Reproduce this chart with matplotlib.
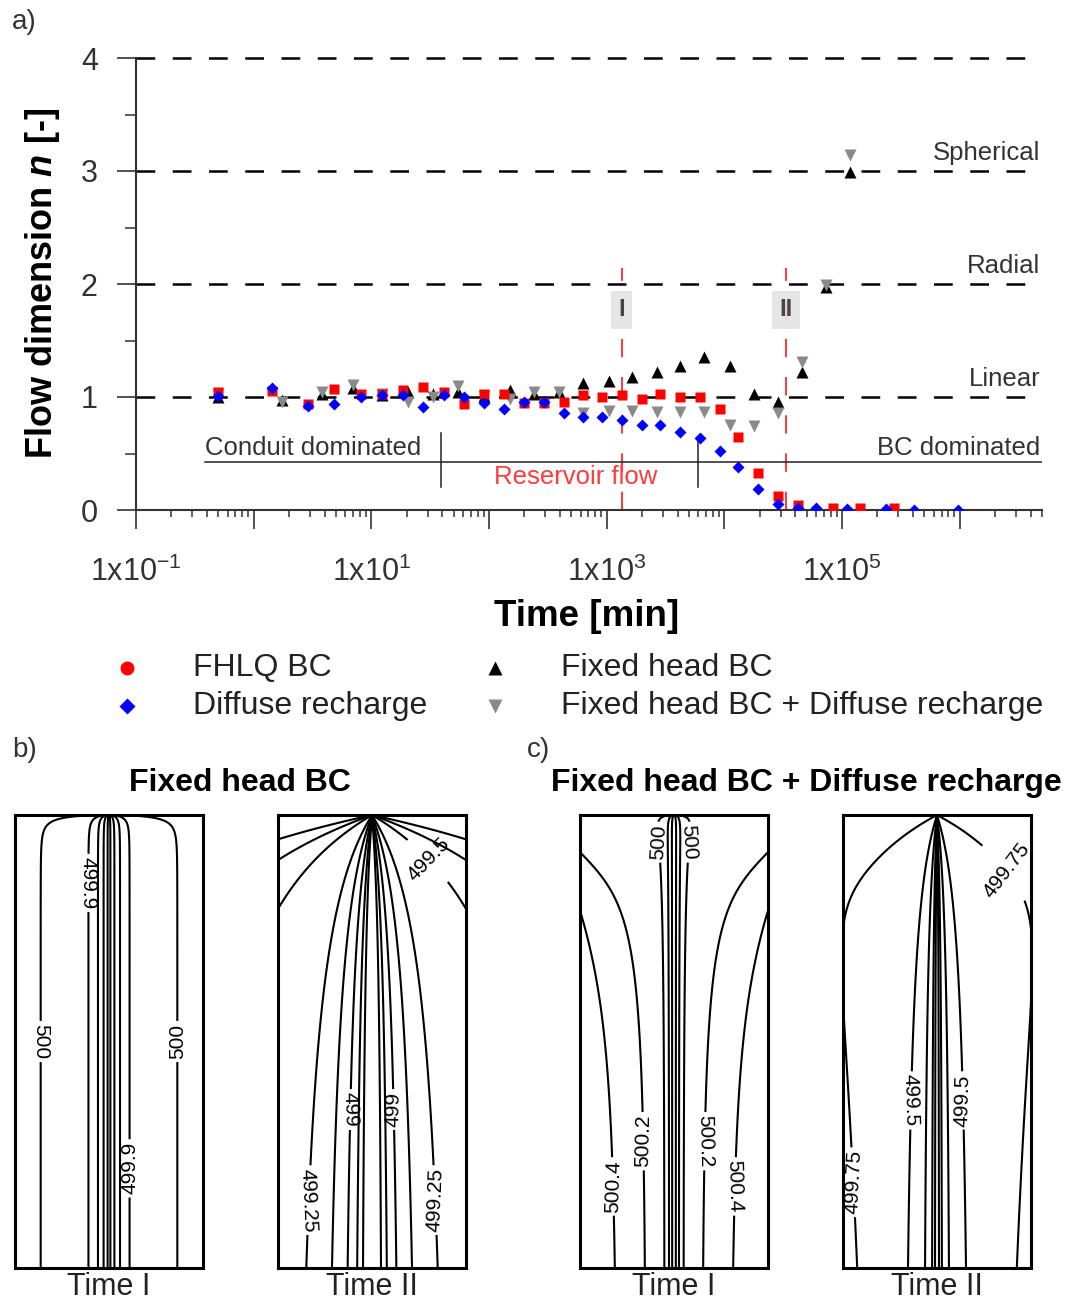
import numpy as np
import matplotlib
matplotlib.use("Agg")
import matplotlib.pyplot as plt
import matplotlib.ticker as mticker
from matplotlib.lines import Line2D

plt.rcParams["font.family"] = ["Liberation Sans", "DejaVu Sans"]
plt.rcParams["mathtext.fontset"] = "custom"
plt.rcParams["mathtext.rm"] = "Liberation Sans"
plt.rcParams["mathtext.it"] = "Liberation Sans:italic:bold"
plt.rcParams["mathtext.bf"] = "Liberation Sans:bold"
plt.rcParams["axes.unicode_minus"] = False

# ---- panel a data (time in min, flow dimension n) ----
t_fhlq = [0.5, 1.44, 2.9, 4.8, 8.1, 12.4, 18.7, 27.7, 41.8, 61.8, 89.8, 133, 197, 291, 430,
          625, 906, 1342, 1986, 2826, 4180, 6180, 9160, 13030, 19280, 28510, 42260,
          83800, 142300, 277200]
n_fhlq = [1.04, 1.05, 0.94, 1.07, 1.03, 1.03, 1.06, 1.09, 1.04, 0.94, 1.03, 1.03, 0.95, 0.95, 0.96,
          1.02, 1.00, 1.02, 0.98, 1.03, 1.00, 1.00, 0.89, 0.65, 0.33, 0.12, 0.04,
          0.02, 0.02, 0.02]

t_diff = [0.5, 1.44, 2.9, 4.8, 8.1, 12.4, 18.7, 27.7, 41.8, 61.8, 89.8, 133, 197, 291, 430,
          625, 906, 1342, 1986, 2826, 4180, 6180, 9160, 13030, 19280, 28510, 42260,
          60100, 110400, 236700, 410000, 971000]
n_diff = [1.01, 1.08, 0.92, 0.94, 1.00, 1.02, 1.02, 0.91, 1.02, 1.00, 0.95, 0.89, 0.96, 0.96, 0.86,
          0.82, 0.82, 0.80, 0.75, 0.75, 0.69, 0.64, 0.52, 0.38, 0.19, 0.05, 0.02,
          0.02, 0.01, 0.01, 0.00, 0.00]

t_fix = [0.5, 1.75, 3.8, 7.0, 12.4, 20.6, 33.7, 55, 89.8, 152, 239, 390, 625, 1040, 1633,
         2666, 4180, 6700, 11140, 17820, 28510, 45700, 73100, 117000]
n_fix = [1.00, 0.97, 1.03, 1.08, 1.02, 1.04, 1.03, 1.04, 1.01, 1.06, 1.03, 1.04, 1.12, 1.14, 1.18,
         1.22, 1.27, 1.35, 1.27, 1.03, 0.96, 1.22, 1.97, 2.99]
n_fix_rch = [1.03, 0.96, 1.04, 1.11, 1.03, 0.96, 1.00, 1.10, 1.01, 0.98, 1.04, 1.04, 0.86, 0.88, 0.88,
             0.87, 0.87, 0.87, 0.75, 0.74, 0.86, 1.31, 1.99, 3.14]

ref_levels = [1, 2, 3, 4]
ref_names = ["Linear", "Radial", "Spherical"]
t_marks = [1342, 33300]
mark_names = ["I", "II"]
t_split = [39.4, 5950]

fig = plt.figure(figsize=(10.68, 13.02), dpi=100)
ax = fig.add_axes([136/1068, 1-510/1302, 906/1068, 452/1302])
ax.set_xscale("log")
ax.set_xlim(0.1, 5e6)
ax.set_ylim(0, 4)

for yv in ref_levels:
    ax.axhline(yv, color="black", lw=1.8, ls=(0, (7.5, 7.0)), zorder=1, clip_on=False)
for name, yv in zip(ref_names, ref_levels[:3]):
    ax.text(0.998, yv + 0.16, name, transform=ax.get_yaxis_transform(), ha="right", va="center",
            fontsize=18.5, color="#333333")

for tm, nm in zip(t_marks, mark_names):
    ax.plot([tm, tm], [0, 2.14], color="red", lw=1.1, ls=(0, (12, 13)), zorder=2)
    ax.text(tm, 1.77, nm, ha="center", va="center", fontsize=17, fontweight="bold", color="#444444",
            bbox=dict(boxstyle="square,pad=0.3", fc="#e4e4e4", ec="none", alpha=0.9), zorder=3)

ax.plot([0.386, 5e6], [0.425, 0.425], color="#222222", lw=1.1, zorder=2)
ax.plot([t_split[0]] * 2, [0.2, 0.68], color="#222222", lw=1.1, zorder=2)
ax.plot([t_split[1]] * 2, [0.2, 0.65], color="#222222", lw=1.1, zorder=2)
ax.text(0.386, 0.55, "Conduit dominated", ha="left", va="center", fontsize=18.5, color="#333333")
ax.text(4.8e6, 0.55, "BC dominated", ha="right", va="center", fontsize=18.5, color="#333333")
ax.text(545, 0.29, "Reservoir flow", ha="center", va="center", fontsize=18.5, color="#ff3b3b")

ax.plot(t_fix, n_fix, ls="none", marker="^", ms=8.5, color="black", mec="none", zorder=4)
ax.plot(t_fix, n_fix_rch, ls="none", marker="v", ms=8.5, color="#8a8a8a", mec="none", zorder=4)
ax.plot(t_fhlq, n_fhlq, ls="none", marker="s", ms=7.8, color="red", mec="none", zorder=5)
ax.plot(t_diff, n_diff, ls="none", marker="D", ms=6.3, color="blue", mec="none", zorder=6)

ax.yaxis.set_major_locator(mticker.MultipleLocator(1))
ax.yaxis.set_minor_locator(mticker.MultipleLocator(0.5))
ax.xaxis.set_major_locator(mticker.LogLocator(base=10, numticks=20))
ax.xaxis.set_minor_locator(mticker.LogLocator(base=10, subs=np.arange(2, 10), numticks=20))


def xfmt(v, pos):
    e = int(round(np.log10(v)))
    if e % 2 == 0:
        return ""
    return r"1x10$^{\mathregular{%d}}$" % e


ax.xaxis.set_major_formatter(mticker.FuncFormatter(xfmt))
ax.xaxis.set_minor_formatter(mticker.NullFormatter())
ax.tick_params(axis="both", which="major", direction="out", length=13.5, width=1.2,
               color="#333333", labelsize=22, labelcolor="#333333")
ax.tick_params(axis="x", which="major", pad=20)
ax.tick_params(axis="y", which="major", pad=14)
ax.tick_params(axis="x", which="minor", direction="out", length=5, width=1.1, color="#333333")
ax.tick_params(axis="y", which="minor", direction="out", length=8, width=1.1, color="#333333")
for s in ["top", "right"]:
    ax.spines[s].set_visible(False)
for s in ["left", "bottom"]:
    ax.spines[s].set_linewidth(1.5)
    ax.spines[s].set_color("#333333")

fig.text(0.040, 1-283/1302, "Flow dimension $n$ [-]", rotation=90, ha="center", va="center",
         fontsize=26, fontweight="bold")
fig.text(587/1068, 1-617/1302, "Time [min]", ha="center", va="center", fontsize=26.5, fontweight="bold")
fig.text(12/1068, 1-22/1302, "a)", ha="left", va="center", fontsize=20, color="#333333")

# legend
leg_items = [("FHLQ BC", "o", "red", 127, 668, 10),
             ("Diffuse recharge", "D", "blue", 127, 706, 8),
             ("Fixed head BC", "^", "black", 495, 668, 9.5),
             ("Fixed head BC + Diffuse recharge", "v", "#8a8a8a", 495, 706, 9.5)]
for lab, mk, col, px, py, ms in leg_items:
    fig.add_artist(Line2D([px/1068], [1-py/1302], marker=mk, color=col, ms=ms, mec="none",
                          ls="none", transform=fig.transFigure))
    fig.text((px + 66)/1068, 1-py/1302, lab, ha="left", va="center", fontsize=23, color="#222222")

# ---- panels b, c: simulated head contours (x across, d = depth below outlet) ----
xg = np.linspace(-1, 1, 801)
dg = np.linspace(1e-4, 1, 1601)
X, D = np.meshgrid(xg, dg)
AX = np.abs(X) + 1e-3

# time I: conduit along the centre line, draining to the outlet at the top
g_top = np.tanh(np.sqrt(D/0.01))
h_b1 = 500.0035 - 0.448*np.exp(-(AX/g_top)/0.15)
# time II: drawdown spreading out from the outlet
w_b2 = 1.3*D/(D + 0.3)
h_b2 = np.minimum(500, 499.34 + 0.2525*np.log(AX/w_b2))
# with diffuse recharge
h_c1 = (500.02 - 0.3*np.exp(-(AX/g_top)/0.08)
        + (0.62*AX + 0.13*AX**8)*(1 - np.exp(-D/0.3)))
w_c2 = 1.25*D/(D + 0.25)
h_c2 = np.minimum(500, 499.6657 + 0.1415*np.log(AX/w_c2)) + 0.2846*AX**6*D**2

lev_b1 = [499.6, 499.7, 499.8, 499.9, 500]
lev_b2 = [498.75, 498.875, 499, 499.125, 499.25, 499.5, 499.625, 499.75]
lev_c1 = [499.8, 499.9, 500, 500.2, 500.4]
lev_c2 = [499.125, 499.25, 499.375, 499.5, 499.75]

panels = [
    (15, h_b1, lev_b1, [(-0.73, 0.5), (0.73, 0.5), (-0.22, 0.15), (0.22, 0.78)], "Time I"),
    (278, h_b2, lev_b2, [(0.6, 0.1), (-0.27, 0.65), (0.26, 0.65), (-0.69, 0.85), (0.68, 0.85)], "Time II"),
    (580, h_c1, lev_c1, [(-0.17, 0.06), (0.17, 0.06), (-0.31, 0.72), (0.31, 0.72),
                         (-0.66, 0.82), (0.67, 0.82)], "Time I"),
    (843, h_c2, lev_c2, [(0.7, 0.13), (-0.3, 0.63), (0.3, 0.63), (-0.82, 0.81)], "Time II"),
]
for px, hh, lev, lpos, lab in panels:
    axp = fig.add_axes([px/1068, 1-1268/1302, 188/1068, 453/1302])
    cs = axp.contour(X, D, hh, levels=lev, colors="black", linewidths=1.5)
    axp.clabel(cs, fmt="%g", manual=lpos, fontsize=15, inline=True, inline_spacing=3)
    axp.set_xlim(-1, 1)
    axp.set_ylim(1, 0)
    axp.set_xticks([])
    axp.set_yticks([])
    for s in axp.spines.values():
        s.set_linewidth(2.2)
    axp.set_xlabel(lab, fontsize=22, labelpad=3, color="#222222")

fig.text(240/1068, 1-783/1302, "Fixed head BC", ha="center", va="center", fontsize=23, fontweight="bold")
fig.text(806/1068, 1-783/1302, "Fixed head BC + Diffuse recharge", ha="center", va="center",
         fontsize=23, fontweight="bold")
fig.text(12/1068, 1-750/1302, "b)", ha="left", va="center", fontsize=20, color="#333333")
fig.text(527/1068, 1-750/1302, "c)", ha="left", va="center", fontsize=20, color="#333333")

fig.savefig("out.png", dpi=100)
